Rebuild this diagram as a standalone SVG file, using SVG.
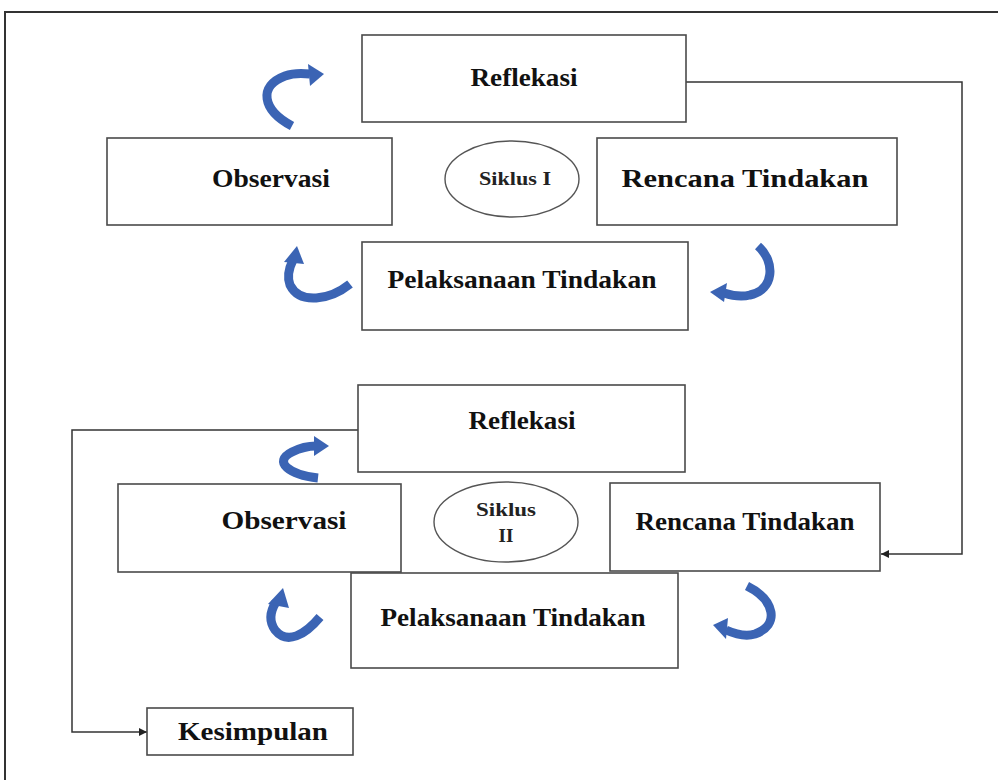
<svg xmlns="http://www.w3.org/2000/svg" width="998" height="780" viewBox="0 0 998 780">
<defs>
<style>
.box{fill:#fff;stroke:#4a4a4a;stroke-width:1.6}
.t{font-family:"Liberation Serif","Times New Roman",serif;font-weight:bold;font-size:25px;fill:#111;text-anchor:middle}
.s{font-family:"Liberation Serif","Times New Roman",serif;font-weight:bold;font-size:19px;fill:#222;text-anchor:middle}
.ell{fill:#fff;stroke:#555;stroke-width:1.4}
.conn{fill:none;stroke:#333;stroke-width:1.5}
.arc{fill:none;stroke:#3b64b4;stroke-width:9}
.head{fill:#3b64b4}
</style>
<marker id="ah" viewBox="0 0 10 10" refX="10" refY="5" markerWidth="10" markerHeight="8" markerUnits="userSpaceOnUse" orient="auto">
<path d="M0,0 L10,5 L0,10 z" fill="#222"/>
</marker>
</defs>
<rect x="0" y="0" width="998" height="780" fill="#fff"/>
<path d="M5,780 V12 H998" fill="none" stroke="#333" stroke-width="2"/>

<g id="connectors">
<path class="conn" d="M686,82 H962 V554 H881" marker-end="url(#ah)"/>
<path class="conn" d="M358,430 H72 V732 H147" marker-end="url(#ah)"/>
</g>

<g id="cycle-arrows">
<path class="arc" d="M292,126 C262,110 258,86 285,76 C293,73 302,73 310,74"/>
<polygon class="head" points="308,64 324,74 310,86"/>
<path class="arc" d="M350,284 C330,300 300,305 290,285 C287,277 289,268 293,260"/>
<polygon class="head" points="284,262 297,246 304,264"/>
<path class="arc" d="M758,246 C776,262 774,290 750,295 C742,297 733,296 724,293"/>
<polygon class="head" points="727,283 710,292 724,302"/>
<path class="arc" d="M318,478 C290,475 272,462 292,452 C300,448 308,446 316,446"/>
<polygon class="head" points="314,436 329,446 314,456"/>
<path class="arc" d="M320,617 C305,635 287,645 275,630 C268,620 271,610 276,602"/>
<polygon class="head" points="268,604 283,588 289,608"/>
<path class="arc" d="M747,586 C775,600 780,625 755,634 C745,637 735,634 726,630"/>
<polygon class="head" points="728,618 713,625 726,639"/>
</g>

<g id="reflekasi1"><rect class="box" x="362" y="35" width="324" height="87"/><text class="t" x="524" y="86" textLength="107" lengthAdjust="spacingAndGlyphs">Reflekasi</text></g>
<g id="observasi1"><rect class="box" x="107" y="138" width="285" height="87"/><text class="t" x="271" y="187" textLength="118" lengthAdjust="spacingAndGlyphs">Observasi</text></g>
<g id="siklus1"><ellipse class="ell" cx="512" cy="179" rx="67" ry="38"/><text class="s" x="515" y="185" textLength="72" lengthAdjust="spacingAndGlyphs">Siklus I</text></g>
<g id="rencana1"><rect class="box" x="597" y="138" width="300" height="87"/><text class="t" x="745" y="187" textLength="247" lengthAdjust="spacingAndGlyphs">Rencana Tindakan</text></g>
<g id="pelaksanaan1"><rect class="box" x="362" y="242" width="326" height="88"/><text class="t" x="522" y="288" textLength="269" lengthAdjust="spacingAndGlyphs">Pelaksanaan Tindakan</text></g>

<g id="reflekasi2"><rect class="box" x="358" y="385" width="327" height="87"/><text class="t" x="522" y="429" textLength="107" lengthAdjust="spacingAndGlyphs">Reflekasi</text></g>
<g id="observasi2"><rect class="box" x="118" y="484" width="283" height="88"/><text class="t" x="284" y="529" textLength="125" lengthAdjust="spacingAndGlyphs">Observasi</text></g>
<g id="siklus2"><ellipse class="ell" cx="506" cy="522" rx="72" ry="40"/><text class="s" x="506" y="516" textLength="60" lengthAdjust="spacingAndGlyphs">Siklus</text><text class="s" x="506" y="542">II</text></g>
<g id="rencana2"><rect class="box" x="610" y="483" width="270" height="88"/><text class="t" x="745" y="530" textLength="219" lengthAdjust="spacingAndGlyphs">Rencana Tindakan</text></g>
<g id="pelaksanaan2"><rect class="box" x="351" y="573" width="327" height="95"/><text class="t" x="513" y="626" textLength="265" lengthAdjust="spacingAndGlyphs">Pelaksanaan Tindakan</text></g>
<g id="kesimpulan"><rect class="box" x="147" y="708" width="206" height="47"/><text class="t" x="253" y="740" textLength="150" lengthAdjust="spacingAndGlyphs">Kesimpulan</text></g>
</svg>
